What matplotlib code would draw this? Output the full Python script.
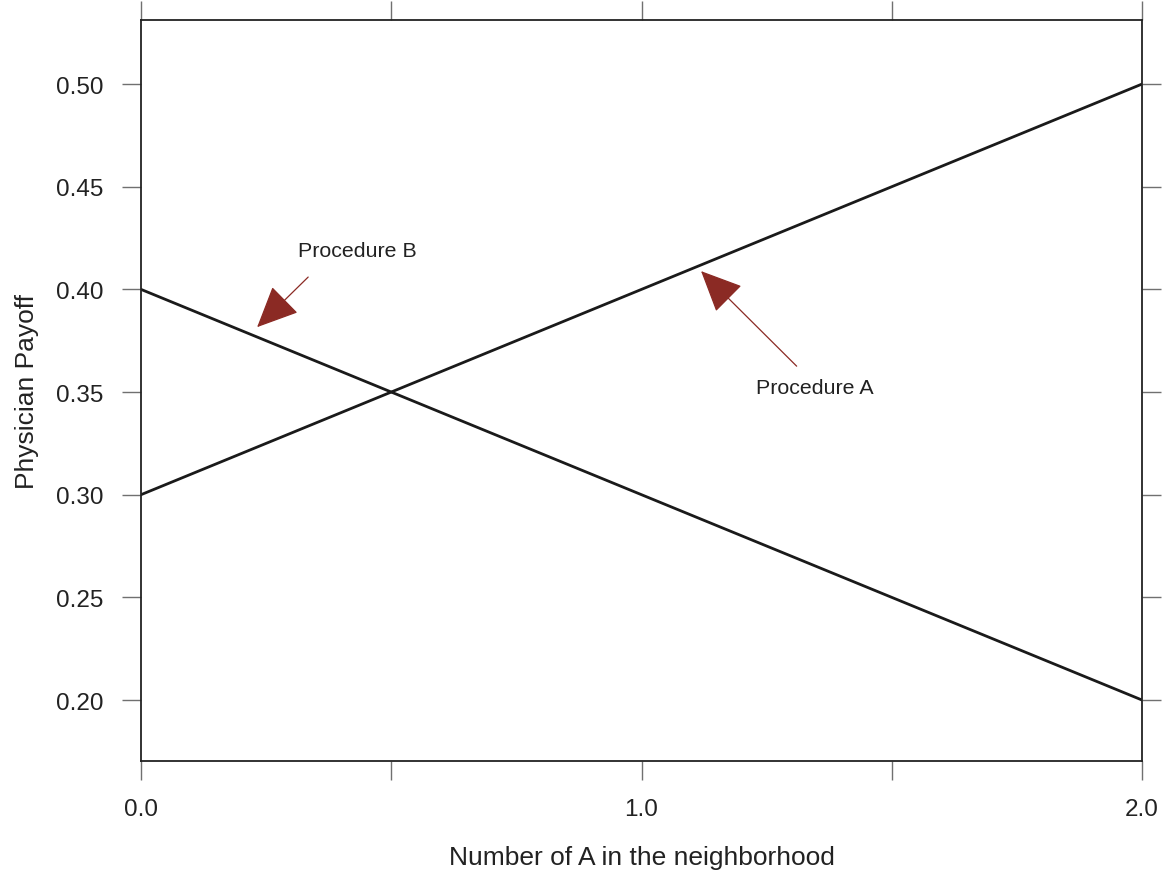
import matplotlib
matplotlib.use("Agg")
from matplotlib import pyplot as plt

plt.rcParams['font.family'] = ['Liberation Sans', 'DejaVu Sans']

# data
neighbors = [0, 2]
payoff_a = [0.30, 0.50]
payoff_b = [0.40, 0.20]

x_ticks = [0, 0.5, 1.0, 1.5, 2.0]
x_labels = ['0.0', '', '1.0', '', '2.0']
y_ticks = [0.20, 0.25, 0.30, 0.35, 0.40, 0.45, 0.50]
y_labels = ['0.20', '0.25', '0.30', '0.35', '0.40', '0.45', '0.50']

fig = plt.figure(figsize=(11.71, 8.79), dpi=100)
ax = fig.add_axes([141/1171, 1 - 762/879, (1142 - 141)/1171, (762 - 21)/879])

ax.plot(neighbors, payoff_a, color='#1a1a1a', linewidth=2)
ax.plot(neighbors, payoff_b, color='#1a1a1a', linewidth=2)

ax.set_xlim(0, 2)
ax.set_ylim(0.1703, 0.5312)
ax.set_xticks(x_ticks)
ax.set_xticklabels(x_labels)
ax.set_yticks(y_ticks)
ax.set_yticklabels(y_labels)

ax.tick_params(direction='out', length=14, width=1, color='#707070',
               labelsize=17.5, labelcolor='#222222',
               top=True, right=True, pad=13)
for s in ax.spines.values():
    s.set_linewidth(1.3)
    s.set_color('#222222')

ax.set_xlabel('Number of A in the neighborhood', fontsize=19, color='#222222', labelpad=18)
ax.set_ylabel('Physician Payoff', fontsize=19, color='#222222', labelpad=12)

arrow_col = '#8b2a24'
arrow = dict(arrowstyle='-|>,head_length=2.2,head_width=1.0', mutation_scale=12,
             color=arrow_col, linewidth=0.9, shrinkA=0, shrinkB=0)
ax.annotate('', xy=(0.232, 0.3816), xytext=(0.334, 0.406), arrowprops=arrow)
ax.text(0.432, 0.4191, 'Procedure B', fontsize=15.4, color='#222222', ha='center', va='center')
ax.annotate('', xy=(1.119, 0.4089), xytext=(1.310, 0.3626), arrowprops=arrow)
ax.text(1.347, 0.3524, 'Procedure A', fontsize=15.4, color='#222222', ha='center', va='center')

fig.savefig('out.png', dpi=100)
